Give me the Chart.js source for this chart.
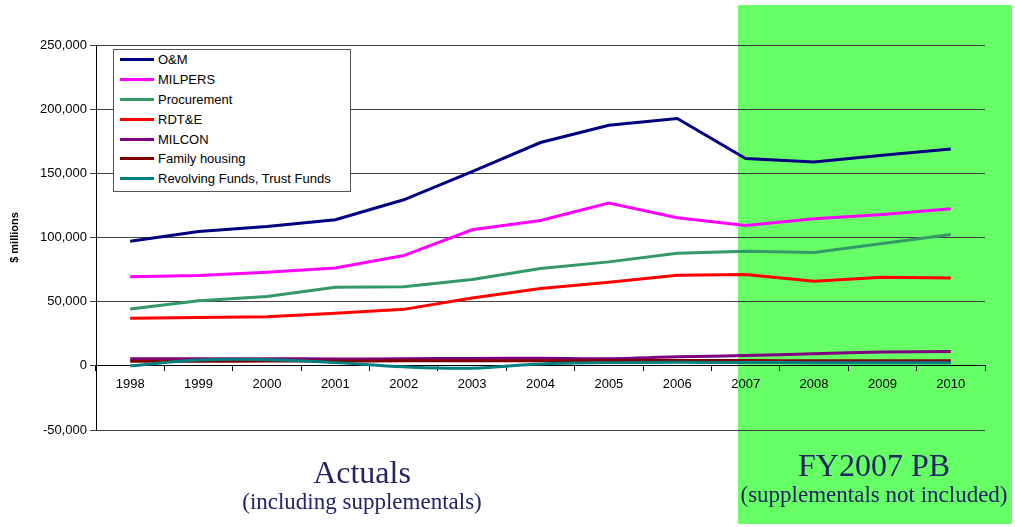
<!DOCTYPE html>
<html lang="en">
<head>
  <meta charset="UTF-8" />
  <title>DoD budget by appropriation, 1998-2010</title>
  <script src="https://cdn.jsdelivr.net/npm/chart.js@4.4.1/dist/chart.umd.min.js"></script>
  <style>
body { margin: 0; background: #fff; font-family: "Liberation Sans", Arial, sans-serif; }
.stage { position: relative; width: 1015px; height: 527px; overflow: hidden; }

/* budget request period shading */
.pb-band { position: absolute; left: 738px; top: 5px; width: 274px; height: 519px; background: #66ff66; }

.chart-wrap { position: absolute; left: 0; top: 0; width: 1015px; height: 527px; }

.legend {
  position: absolute; left: 113px; top: 49px; width: 236px; height: 141px;
  border: 1px solid #555; background: #fff;
}
.legend-row { height: 19.8px; display: flex; align-items: center; font-size: 13px; color: #000; }
.legend-swatch { width: 34px; height: 3px; margin: 0 4px 0 6px; }

.note { position: absolute; text-align: center; color: #232366; font-family: "Liberation Serif", "Times New Roman", serif; white-space: nowrap; }
.note .big { font-size: 32px; line-height: 34px; }
.note .small { font-size: 23px; line-height: 26px; }
  </style>
</head>
<body>
<div class="stage">
  <div class="pb-band"></div>
  <div class="chart-wrap"><canvas id="budget"></canvas></div>
  <div class="legend" id="legend"></div>

  <div class="note" style="left:212px; top:455px; width:300px;">
    <div class="big">Actuals</div>
    <div class="small">(including supplementals)</div>
  </div>
  <div class="note" style="left:724px; top:448px; width:300px;">
    <div class="big">FY2007 PB</div>
    <div class="small">(supplementals not included)</div>
  </div>
</div>

<script>
  // fiscal years
  const years = ['1998','1999','2000','2001','2002','2003','2004','2005','2006','2007','2008','2009','2010'];

  // $ millions by appropriation title
  const om          = [97000, 104700, 108500, 113800, 129400, 151400, 174000, 187500, 192700, 161500, 158900, 164000, 169000];
  const milpers     = [69500, 70300, 72900, 76300, 85900, 106000, 113300, 126800, 115400, 109400, 114600, 118000, 122400];
  const procurement = [44300, 50800, 54100, 61200, 61700, 67200, 75800, 81000, 87800, 89300, 88300, 95300, 102300];
  const rdte        = [37000, 37700, 38300, 40900, 44000, 52900, 60200, 65100, 70600, 71100, 65900, 69000, 68500];
  const milcon      = [5500, 5500, 5500, 5400, 5500, 5800, 5900, 5600, 7000, 8000, 9400, 10700, 11200];
  const housing     = [3500, 3600, 3700, 3700, 3900, 4000, 4000, 4100, 4100, 4100, 4000, 3900, 3900];
  const revolving   = [0, 4500, 4800, 2500, -800, -1800, 1500, 2500, 2700, 2600, 2500, 2500, 2500];

  const seriesNames  = ['O&M', 'MILPERS', 'Procurement', 'RDT&E', 'MILCON', 'Family housing', 'Revolving Funds, Trust Funds'];
  const seriesData   = [om, milpers, procurement, rdte, milcon, housing, revolving];
  const seriesColors = ['#000080', '#ff00ff', '#339966', '#ff0000', '#800080', '#800000', '#008080'];
  const smoothed     = [false, false, false, false, true, true, true];

  const yTicks = { min: -50000, max: 250000, step: 50000 };

  const datasets = seriesNames.map((name, i) => ({
    label: name,
    data: seriesData[i],
    borderColor: seriesColors[i],
    backgroundColor: seriesColors[i],
    borderWidth: 3,
    pointRadius: 0,
    tension: smoothed[i] ? 0.4 : 0,
    order: -i   // later series on top
  }));

  const axisFont = { family: '"Liberation Sans", Arial, sans-serif', size: 13 };

  new Chart(document.getElementById('budget'), {
    type: 'line',
    data: { labels: years, datasets },
    options: {
      responsive: true,
      maintainAspectRatio: false,
      animation: false,
      layout: { padding: { top: 45, right: 30, bottom: 97, left: 0 } },
      plugins: { legend: { display: false }, tooltip: { enabled: false } },
      scales: {
        x: {
          type: 'category',
          position: { y: 0 },
          offset: true,
          grid: { display: true, drawOnChartArea: false, color: '#000', tickLength: 5, offset: true },
          border: { display: true, color: '#000', width: 1 },
          ticks: { color: '#000', font: axisFont, padding: 6, maxRotation: 0, autoSkip: false }
        },
        y: {
          min: yTicks.min,
          max: yTicks.max,
          grid: { color: '#404040', tickLength: 6 },
          border: { display: true, color: '#000', width: 1 },
          ticks: {
            stepSize: yTicks.step,
            color: '#000',
            font: axisFont,
            padding: 3,
            callback: v => v.toLocaleString('en-US')
          },
          title: {
            display: true,
            text: '$ millions',
            color: '#000',
            font: { family: '"Liberation Sans", Arial, sans-serif', size: 11, weight: 'bold' },
            padding: { top: 8, bottom: 0 }
          },
          afterFit: scale => { scale.width = 96; }
        }
      }
    }
  });

  // legend box in the upper left of the plot
  const legend = document.getElementById('legend');
  seriesNames.forEach((name, i) => {
    const row = document.createElement('div');
    row.className = 'legend-row';
    const sw = document.createElement('span');
    sw.className = 'legend-swatch';
    sw.style.background = seriesColors[i];
    const txt = document.createElement('span');
    txt.textContent = name;
    row.appendChild(sw);
    row.appendChild(txt);
    legend.appendChild(row);
  });
</script>
</body>
</html>
